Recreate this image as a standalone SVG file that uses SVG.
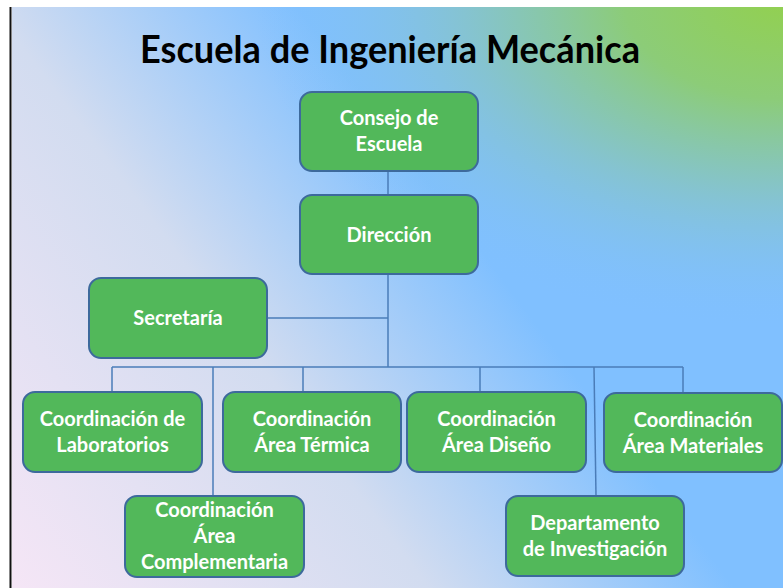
<svg xmlns="http://www.w3.org/2000/svg" width="783" height="588" viewBox="0 0 783 588">
<defs>
<linearGradient id="bg" gradientUnits="userSpaceOnUse" x1="0" y1="588" x2="783" y2="0">
<stop offset="0" stop-color="#f6e6f6"/>
<stop offset="0.35" stop-color="#d2dcf0"/>
<stop offset="0.6" stop-color="#80c0ff"/>
<stop offset="1" stop-color="#80c0ff"/>
</linearGradient>
<radialGradient id="gr" gradientUnits="userSpaceOnUse" cx="783" cy="0" r="330" gradientTransform="translate(783 0) scale(1.6 1) translate(-783 0)">
<stop offset="0" stop-color="#92d050" stop-opacity="1"/>
<stop offset="0.3" stop-color="#8ccc78" stop-opacity="1"/>
<stop offset="0.6" stop-color="#86c4c8" stop-opacity="0.85"/>
<stop offset="1" stop-color="#80c0ff" stop-opacity="0"/>
</radialGradient>
<style>
.box{fill:#52b85a;stroke:#3d6a9c;stroke-width:2}
.lbl{font-family:Lato,"Liberation Sans",sans-serif;font-weight:bold;font-size:20px;fill:#ffffff;text-anchor:middle}
.ttl{font-family:Lato,"Liberation Sans",sans-serif;font-weight:bold;font-size:38px;fill:#000000;text-anchor:middle}
.con{stroke:#4a7cb8;stroke-width:1.5;fill:none}
</style>
</defs>
<rect x="0" y="0" width="783" height="588" fill="#ffffff"/>
<rect x="12" y="7" width="771" height="581" fill="url(#bg)"/>
<rect x="12" y="7" width="771" height="581" fill="url(#gr)"/>
<line x1="10.5" y1="7" x2="10.5" y2="588" stroke="#111111" stroke-width="2"/>
<text class="ttl" x="390" y="63" textLength="500" lengthAdjust="spacingAndGlyphs">Escuela de Ingeniería Mecánica</text>
<g id="connectors">
<line class="con" x1="388" y1="171" x2="388" y2="195"/>
<line class="con" x1="388" y1="274" x2="388" y2="367"/>
<line class="con" x1="267" y1="318" x2="388" y2="318"/>
<line class="con" x1="112" y1="367" x2="683" y2="367"/>
<line class="con" x1="112" y1="367" x2="112" y2="392"/>
<line class="con" x1="213" y1="367" x2="213" y2="496"/>
<line class="con" x1="303" y1="367" x2="303" y2="392"/>
<line class="con" x1="480" y1="367" x2="480" y2="392"/>
<line class="con" x1="594" y1="367" x2="596" y2="496"/>
<line class="con" x1="683" y1="367" x2="683" y2="393"/>
</g>
<g id="consejo">
<rect class="box" x="300" y="92" width="178" height="79" rx="12"/>
<text class="lbl" x="389" y="125">Consejo de</text>
<text class="lbl" x="389" y="151">Escuela</text>
</g>
<g id="direccion">
<rect class="box" x="300" y="195" width="178" height="79" rx="12"/>
<text class="lbl" x="389" y="242">Dirección</text>
</g>
<g id="secretaria">
<rect class="box" x="89" y="278" width="178" height="80" rx="12"/>
<text class="lbl" x="178" y="325">Secretaría</text>
</g>
<g id="laboratorios">
<rect class="box" x="23" y="392" width="179" height="80" rx="12"/>
<text class="lbl" x="112.5" y="426">Coordinación de</text>
<text class="lbl" x="112.5" y="452">Laboratorios</text>
</g>
<g id="termica">
<rect class="box" x="223" y="392" width="178" height="80" rx="12"/>
<text class="lbl" x="312" y="426">Coordinación</text>
<text class="lbl" x="312" y="452">Área Térmica</text>
</g>
<g id="diseno">
<rect class="box" x="407" y="392" width="179" height="80" rx="12"/>
<text class="lbl" x="496.5" y="426">Coordinación</text>
<text class="lbl" x="496.5" y="452">Área Diseño</text>
</g>
<g id="materiales">
<rect class="box" x="604" y="393" width="178" height="79" rx="12"/>
<text class="lbl" x="693" y="427">Coordinación</text>
<text class="lbl" x="693" y="453">Área Materiales</text>
</g>
<g id="complementaria">
<rect class="box" x="125" y="496" width="179" height="81" rx="12"/>
<text class="lbl" x="214.5" y="517">Coordinación</text>
<text class="lbl" x="214.5" y="543">Área</text>
<text class="lbl" x="214.5" y="569">Complementaria</text>
</g>
<g id="departamento">
<rect class="box" x="506" y="496" width="178" height="80" rx="12"/>
<text class="lbl" x="595" y="530">Departamento</text>
<text class="lbl" x="595" y="556">de Investigación</text>
</g>
</svg>
